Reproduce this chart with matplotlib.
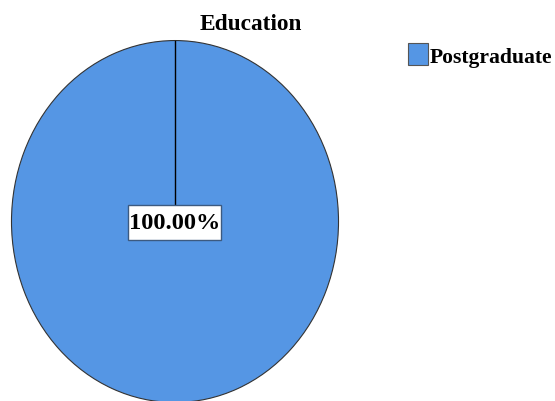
import matplotlib
matplotlib.use("Agg")
import matplotlib.pyplot as plt
from matplotlib.patches import Rectangle

categories = ["Postgraduate"]
values = [100.0]
labels = ["100.00%"]
title = "Education"
color = "#5596E4"

plt.rcParams['font.family'] = ['Liberation Serif', 'DejaVu Serif']

W, H = 555, 402
fig = plt.figure(figsize=(W / 100, H / 100), dpi=100)
ax = fig.add_axes([11 / W, -2 / H, 328 / W, 363 / H])
wedges, _ = ax.pie(values, colors=[color], startangle=90, counterclock=False,
                   wedgeprops=dict(edgecolor="#333333", linewidth=0.8), radius=1)
ax.set_aspect('auto')
ax.set_xlim(-1.003, 1.003)
ax.set_ylim(-1.003, 1.003)
ax.axis('off')
# start-edge line from center to top
ax.plot([0, 0], [0, 1], color="black", lw=1.0, zorder=3)

# label box (figure pixel coordinates)
fig.patches.append(Rectangle((128 / W, 1 - 241 / H), 93 / W, 35 / H,
                             transform=fig.transFigure, facecolor='white',
                             edgecolor='#3c5a80', lw=1.0, zorder=5))
fig.text(174.5 / W, 1 - 224 / H, labels[0], ha='center', va='center', fontsize=17.6,
         fontweight='bold', zorder=6)

fig.text(250.5 / W, 1 - 24 / H, title, ha='center', va='center', fontsize=16.8, fontweight='bold')

# legend (manual)
for i, cat in enumerate(categories):
    y0 = 44 + i * 28
    fig.patches.append(Rectangle((408 / W, 1 - (y0 + 22) / H), 20 / W, 22 / H,
                                 transform=fig.transFigure, facecolor=color,
                                 edgecolor='#555555', lw=0.8))
    fig.text(430 / W, 1 - (y0 + 13.5) / H, cat, ha='left', va='center', fontsize=15.6,
             fontweight='bold')

fig.savefig("out.png", dpi=100)
